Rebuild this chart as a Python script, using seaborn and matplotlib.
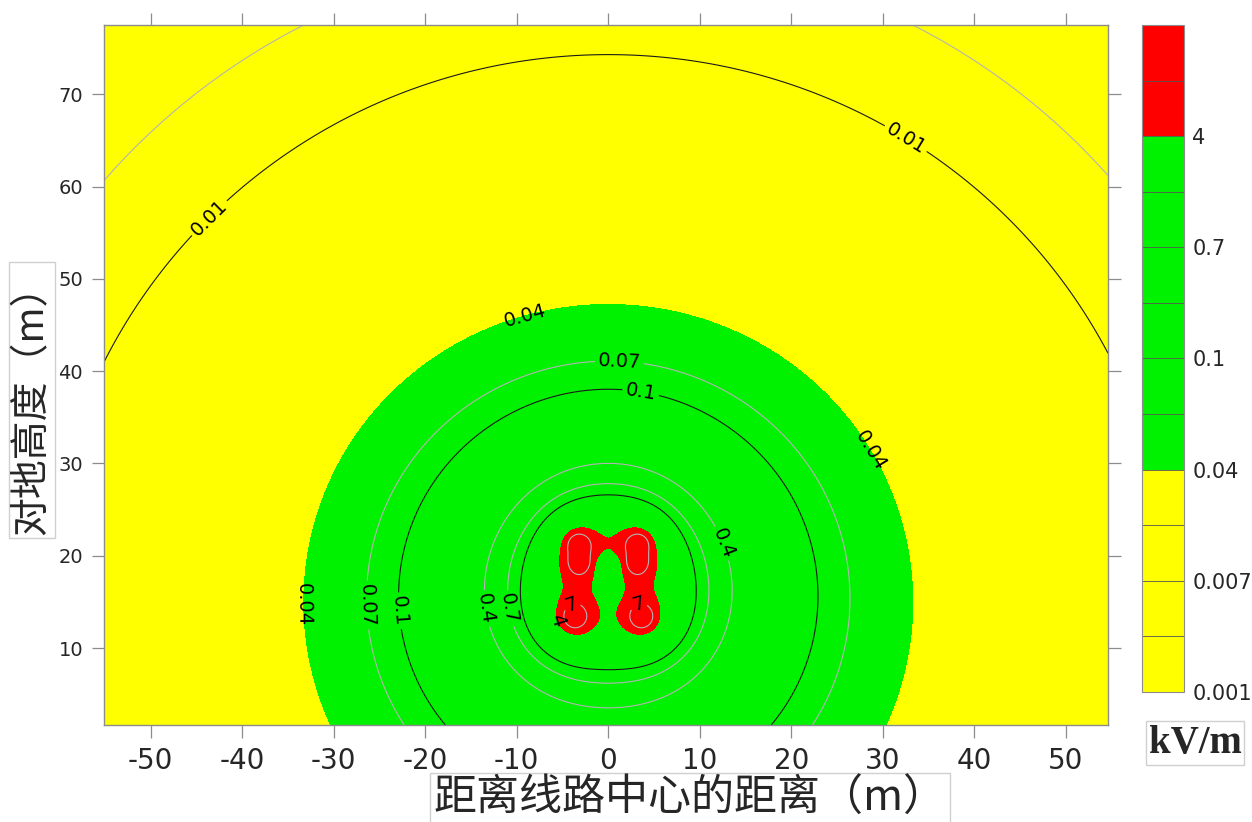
import numpy as np
import matplotlib
matplotlib.use("Agg")
import matplotlib.pyplot as plt
import seaborn as sns

# conductors of the double-circuit line (left circuit A-B-C, right circuit C-B-A)
cond_x = [-3.3, -3.1, -3.7, 3.3, 3.1, 3.7]
cond_y = [21.3, 19.3, 13.3, 21.3, 19.3, 13.3]
cond_phase = [0, -120, 120, 120, -120, 0]
cond_charge = [8.6, 8.6, 8.6, 8.6, 8.6, 8.6]

# contour levels (kV/m) and the fill colour of each band
levels = [0.001, 0.004, 0.007, 0.01, 0.04, 0.07, 0.1, 0.4, 0.7, 1, 4, 7, 10]
band_colors = ['#ffff00'] * 4 + ['#00f200'] * 6 + ['#ff0000'] * 2
line_levels = [0.007, 0.01, 0.04, 0.07, 0.1, 0.4, 0.7, 1, 4, 7]
line_colors = ['#b4b4b4', '#1a1a1a', 'none', '#b4b4b4', '#1a1a1a',
               '#b4b4b4', '#b4b4b4', '#1a1a1a', 'none', '#b4b4b4']
cbar_ticks = [0.001, 0.007, 0.04, 0.1, 0.7, 4]

# where the contour labels sit, per level
label_spots = {
    0.01: [(-45, 58), (33, 66)],
    0.04: [(-9, 45.7), (27.2, 30.5), (-28.9, 14.7)],
    0.07: [(1.2, 41), (-24.7, 14.7)],
    0.1: [(3.6, 38), (-22, 14.1)],
    0.4: [(12.1, 21.2), (-14.6, 14.1)],
    0.7: [(-11.9, 14.1)],
    4: [(-7.5, 12.5)],
    7: [(-4.3, 15.5), (3.0, 15.5)],
}

x_range = (-55.1, 54.6)
y_range = (1.66, 77.5)
x_ticks = list(range(-50, 51, 10))
y_ticks = list(range(10, 71, 10))

# field of the line charges, free space
xg = np.linspace(x_range[0], x_range[1], 1100)
yg = np.linspace(y_range[0], y_range[1], 760)
X, Y = np.meshgrid(xg, yg)
Ex = np.zeros_like(X, dtype=complex)
Ey = np.zeros_like(X, dtype=complex)
for cx, cy, ph, q in zip(cond_x, cond_y, cond_phase, cond_charge):
    lam = q * np.exp(1j * np.deg2rad(ph))
    dx = X - cx
    dy = Y - cy
    r2 = dx**2 + dy**2
    Ex += lam * dx / r2
    Ey += lam * dy / r2
E = np.sqrt(np.abs(Ex)**2 + np.abs(Ey)**2)
E = np.clip(E, 0.0011, 9.99)

sns.set_style("ticks")
plt.rcParams['font.family'] = ['DejaVu Sans', 'Noto Sans CJK SC']
plt.rcParams['axes.unicode_minus'] = False

fig = plt.figure(figsize=(12.52, 8.22), dpi=100)
ax = fig.add_axes([104 / 1252, 97 / 822, 1004 / 1252, 700 / 822])
cax = fig.add_axes([1142 / 1252, 130 / 822, 42 / 1252, 667 / 822])

cf = ax.contourf(X, Y, E, levels=levels, colors=band_colors)
for lev, col in zip(line_levels, line_colors):
    cs = ax.contour(X, Y, E, levels=[lev], colors=[col], linewidths=0.8)
    if lev in label_spots:
        ax.clabel(cs, manual=label_spots[lev], inline=True, inline_spacing=3,
                  fontsize=14, colors='black', fmt=lambda v: f'{v:g}')

ax.set_xlim(*x_range)
ax.set_ylim(*y_range)
ax.set_xticks(x_ticks)
ax.set_yticks(y_ticks)
ax.tick_params(axis='both', direction='out', length=9, width=0.9,
               color='#8c8c8c', top=True, right=True)
ax.tick_params(axis='y', labelsize=14, pad=6)
ax.tick_params(axis='x', labelsize=20, pad=7)
for lab in ax.get_xticklabels():
    lab.set_family(['Liberation Sans Narrow', 'DejaVu Sans Condensed', 'DejaVu Sans'])
for sp in ax.spines.values():
    sp.set_color('#8c8c8c')
    sp.set_linewidth(1.0)

box = dict(boxstyle='square,pad=0.08', facecolor='white', edgecolor='#d0d0d0')
ax.set_xlabel('距离线路中心的距离（m）', fontsize=31,
              family=['Noto Sans CJK SC', 'DejaVu Sans'], bbox=box)
ax.xaxis.set_label_coords(0.584, -0.074)
ax.set_ylabel('对地高度（m）', fontsize=28,
              family=['Noto Sans CJK SC', 'DejaVu Sans'], bbox=box)
ax.yaxis.set_label_coords(-0.052, 0.464)

cb = fig.colorbar(cf, cax=cax, drawedges=True)
cb.set_ticks(cbar_ticks)
cb.set_ticklabels([f'{t:g}' for t in cbar_ticks])
cb.ax.tick_params(length=0, labelsize=15, pad=6)
cb.outline.set_edgecolor('#8c8c8c')
cb.dividers.set_color('#555555')
cb.dividers.set_linewidth(0.6)
fig.text(1195 / 1252, 1 - 743 / 822, 'kV/m', fontsize=28, fontweight='bold',
         family=['Liberation Serif', 'DejaVu Serif'], ha='center', va='center',
         bbox=box)

fig.savefig('out.png', dpi=100)
